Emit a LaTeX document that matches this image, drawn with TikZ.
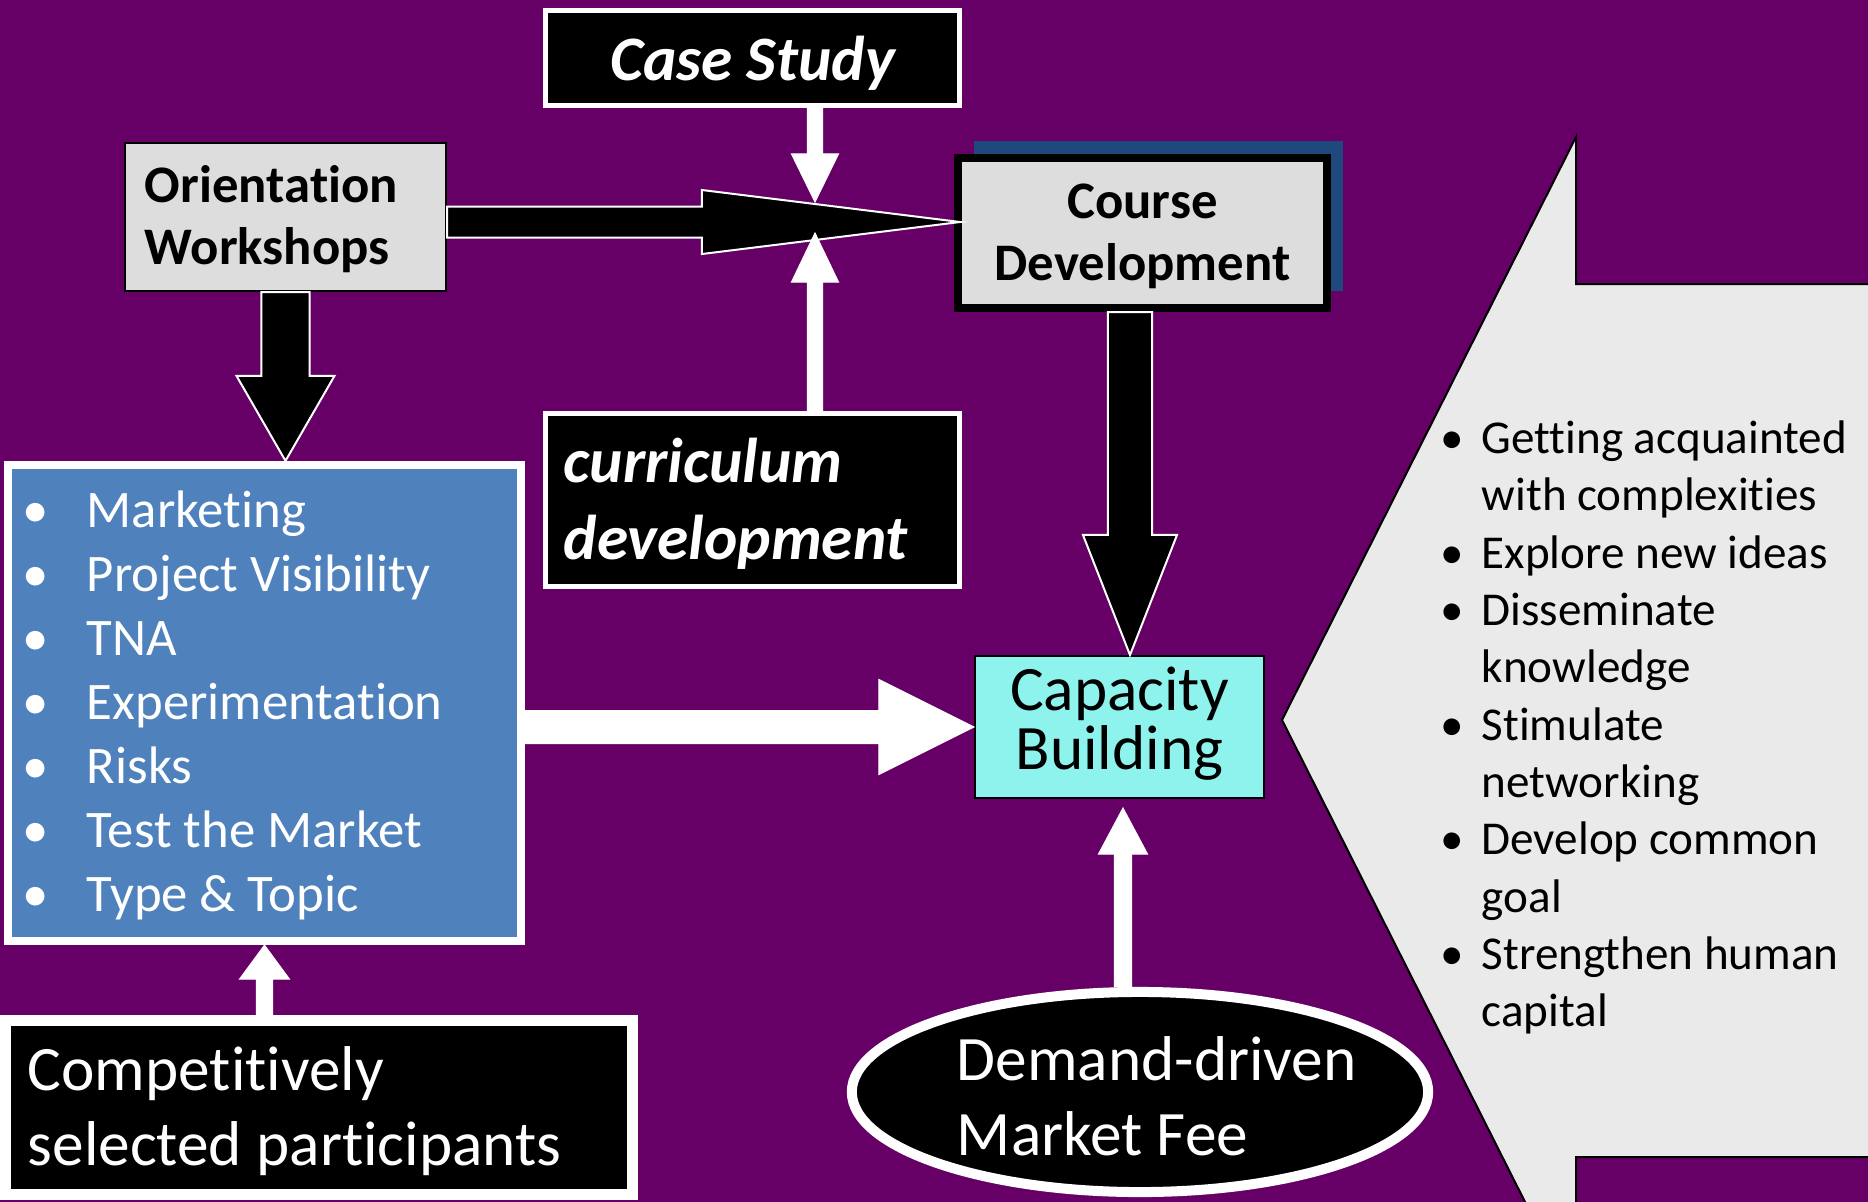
\documentclass[tikz,border=0pt]{standalone}
\usepackage{fontspec}
\setmainfont{Carlito}[Ligatures=NoCommon]
\usetikzlibrary{calc, shapes.geometric, shadows}

\definecolor{slidebg}{HTML}{660066}
\definecolor{boxgray}{HTML}{DDDDDD}
\definecolor{listblue}{HTML}{4F81BD}
\definecolor{capcyan}{HTML}{8EF3EC}
\definecolor{shadeblue}{HTML}{1F497D}
\definecolor{bandgray}{HTML}{EAEAEA}

% block arrow: [style]{from}{to}{half shaft}{half head}{head length}
\newcommand{\blockarrow}[6][]{%
  \path (#2) coordinate (ba-a) (#3) coordinate (ba-b);
  \path ($(ba-b)!#6!(ba-a)$) coordinate (ba-h);
  \draw[#1] ($(ba-a)!#4!90:(ba-b)$) -- ($(ba-h)!#4!90:(ba-b)$)
    -- ($(ba-h)!#5!90:(ba-b)$) -- (ba-b) -- ($(ba-h)!#5!-90:(ba-b)$)
    -- ($(ba-h)!#4!-90:(ba-b)$) -- ($(ba-a)!#4!-90:(ba-b)$) -- cycle;
}
\newcommand{\bul}[1]{\makebox[#1][l]{\textbullet}}

\begin{document}
\begin{tikzpicture}[x=0.01cm, y=-0.01cm,
    graybox/.style={draw=black, fill=boxgray, inner ysep=0pt,
      font=\fontsize{15}{17.9}\selectfont\bfseries},
    blackbox/.style={draw=white, fill=black, text=white, inner ysep=0pt},
    darkarrow/.style={fill=black, draw=white, line width=0.2mm},
    whitearrow/.style={fill=white, draw=white, line width=0.1mm}]
    \useasboundingbox (0,0) rectangle (1868,1202);
    \clip (0,0) rectangle (1868,1202);
    \fill[slidebg] (0,0) rectangle (1868,1202);

    % big arrow on the right
    \filldraw[fill=bandgray, draw=black, line width=0.2mm] (1282,720) -- (1576,137)
      -- (1576,284) -- (1900,284) -- (1900,1157) -- (1576,1157) -- (1576,1303) -- cycle;
    \node (gains) [anchor=north west, inner sep=0pt, align=left,
      font=\fontsize{13.4}{16.3}\selectfont] at (1440,420)
      {\bul{4.1mm}Getting acquainted\\ \hspace*{4.1mm}with complexities\\
       \bul{4.1mm}Explore new ideas\\ \bul{4.1mm}Disseminate\\
       \hspace*{4.1mm}knowledge\\ \bul{4.1mm}Stimulate\\
       \hspace*{4.1mm}networking\\ \bul{4.1mm}Develop common\\
       \hspace*{4.1mm}goal\\ \bul{4.1mm}Strengthen human\\ \hspace*{4.1mm}capital};

    \node (orient) [graybox, line width=0.2mm, minimum width=3.21cm, minimum height=1.48cm,
      text width=2.81cm, inner xsep=0.2cm, align=flush left,
      text height=4mm, text depth=7mm] at (285.5,217)
      {Orientation\\Workshops};
    \node (course) [graybox, line width=0.8mm, minimum width=3.69cm, minimum height=1.5cm,
      text width=3.49cm, inner xsep=0.1cm, align=center, text height=4mm, text depth=7mm,
      general shadow={fill=shadeblue, shadow xshift=1.6mm, shadow yshift=1.7mm}]
      at (1142.5,233) {Course\\Development};
    \node (case) [blackbox, line width=0.5mm, minimum width=4.14cm, minimum height=0.95cm,
      text height=5mm, text depth=0.6mm,
      font=\fontsize{18}{22}\selectfont\bfseries\itshape] at (752.5,58) {Case Study};
    \node (curric) [blackbox, line width=0.5mm, minimum width=4.14cm, minimum height=1.73cm,
      text width=3.77cm, inner xsep=0.185cm, align=flush left,
      text height=4mm, text depth=7.6mm,
      font=\fontsize{18}{21.9}\selectfont\bfseries\itshape] at (752.5,500)
      {curriculum\\development};
    \node (blue) [draw=white, line width=0.8mm, fill=listblue, text=white, inner ysep=0pt,
      minimum width=5.13cm, minimum height=4.76cm, text width=4.83cm,
      inner xsep=0.15cm, align=flush left, text height=4mm, text depth=39mm,
      font=\fontsize{15}{18.2}\selectfont] at (264.5,703)
      {\bul{6.4mm}Marketing\\ \bul{6.4mm}Project Visibility\\ \bul{6.4mm}TNA\\
       \bul{6.4mm}Experimentation\\ \bul{6.4mm}Risks\\ \bul{6.4mm}Test the Market\\
       \bul{6.4mm}Type \& Topic};
    \node (cap) [draw=black, line width=0.2mm, fill=capcyan, inner ysep=0pt,
      minimum width=2.89cm, minimum height=1.42cm, text width=2.79cm, inner xsep=0.05cm,
      align=center, text height=4mm, text depth=7.4mm,
      font=\fontsize{18}{17}\selectfont] at (1119.5,727) {Capacity\\Building};
    \node (fee) [blackbox, ellipse, line width=1mm, inner sep=0pt, minimum width=5.76cm,
      minimum height=2cm, text width=3.66cm, text height=4mm, text depth=6.4mm,
      align=flush left, font=\fontsize{18}{21.6}\selectfont] at (1140,1092)
      {\mbox{Demand-driven}\\Market Fee};
    \node (comp) [blackbox, line width=1.1mm, minimum width=6.27cm, minimum height=1.74cm,
      text width=5.82cm, inner xsep=0.225cm, align=flush left,
      text height=4mm, text depth=7.5mm,
      font=\fontsize{18}{21.6}\selectfont] at (319,1107.5)
      {Competitively\\selected participants};

    \coordinate (jointip) at (960,222);
    \coordinate (casetip) at (815,202);
    \coordinate (curtip) at (815,233);
    \coordinate (coursetip) at (1130,655);
    \coordinate (feetip) at (1123,808);

    \blockarrow[darkarrow]{orient.east |- jointip}{jointip}{1.55mm}{3.2mm}{25.8mm}
    \blockarrow[darkarrow]{orient.south}{orient.south |- blue.north}{2.4mm}{4.9mm}{8.5mm}
    \blockarrow[whitearrow]{case.south -| casetip}{casetip}{0.75mm}{2.35mm}{4.8mm}
    \blockarrow[whitearrow]{curric.north -| curtip}{curtip}{0.75mm}{2.35mm}{4.9mm}
    \blockarrow[darkarrow]{course.south -| coursetip}{coursetip}{2.2mm}{4.7mm}{12mm}
    \blockarrow[whitearrow]{blue.east |- cap.west}{cap.west}{1.65mm}{4.75mm}{9.5mm}
    \blockarrow[whitearrow]{fee.north -| feetip}{feetip}{0.85mm}{2.45mm}{4.6mm}
    \blockarrow[whitearrow]{comp.north -| blue.south}{blue.south}{0.8mm}{2.5mm}{3.4mm}
\end{tikzpicture}
\end{document}
